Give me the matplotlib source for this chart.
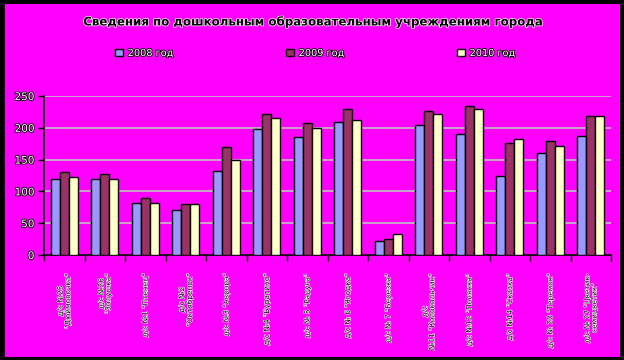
import numpy as np
import matplotlib
matplotlib.use("Agg")
import matplotlib.pyplot as plt
import matplotlib.patheffects as pe
from matplotlib.patches import Rectangle

# данные по детским садам
categories = [
    'д/с №25\n"Дюймовочка"',
    'д/с №26\n"Золушка"',
    'д/с №1 "Птенец"',
    'д/с №2\n"Октябренок"',
    'д/с №3 "Аврора"',
    'д/с №4 "Буратино"',
    'д/с № 5 "Радуга"',
    'д/с № 6 "Ягодка"',
    'д/с № 7 "Березка"',
    'д/с\n№11 "Колокольчик"',
    'д/с №12 "Полянка"',
    'д/с №14 "Сказка"',
    'д/с № 20 "Теремок"',
    'д/с № 27 "Цветик-\nсемицветик"',
]
years = ["2008 год", "2009 год", "2010 год"]
v2008 = [120, 120, 82, 71, 132, 198, 185, 209, 22, 205, 190, 125, 160, 187]
v2009 = [130, 128, 90, 80, 170, 222, 207, 229, 25, 226, 234, 176, 180, 218]
v2010 = [123, 120, 82, 80, 150, 215, 200, 212, 33, 221, 229, 183, 171, 218]
colors = ["#9999FF", "#993366", "#FFFFCC"]
yticks = [0, 50, 100, 150, 200, 250]

plt.rcParams['font.family'] = ['DejaVu Sans']

fig = plt.figure(figsize=(6.24, 3.6), dpi=100)
fig.patch.set_facecolor("black")
# розовая область диаграммы
fig.patches.append(Rectangle((5/624, 3/360), 615/624, 353/360, transform=fig.transFigure,
                             facecolor="#FF00FF", edgecolor="none", zorder=-5))

ax = fig.add_axes([44/624, 1-255/360, 567/624, 159/360])
ax.set_zorder(2)
ax.set_facecolor("#FF00FF")

x = np.arange(len(categories))
w = 0.22
series = [v2008, v2009, v2010]
bars = []
for i, vals in enumerate(series):
    b = ax.bar(x + (i-1)*w, vals, w, color=colors[i], edgecolor="black",
               linewidth=1, label=years[i], zorder=3)
    bars.append(b)

ax.set_xlim(-0.5, len(categories)-0.5)
ax.set_ylim(0, 250)
ax.set_yticks(yticks)
ax.yaxis.grid(True, color="#C0C0C0", linewidth=1.2, zorder=1)
ax.set_axisbelow(True)
for s in ["top", "right"]:
    ax.spines[s].set_visible(False)
ax.spines["left"].set_linewidth(1.2)
ax.spines["bottom"].set_linewidth(1.2)

stroke_w = [pe.withStroke(linewidth=1.2, foreground="black")]
stroke_b = [pe.withStroke(linewidth=0.8, foreground="white")]

ax.tick_params(axis="y", direction="out", length=4, width=1, labelsize=7.5,
               labelcolor="white", pad=3)
for t in ax.get_yticklabels():
    t.set_path_effects(stroke_w)

ax.set_xticks(x)
ax.set_xticklabels(categories, rotation=90, fontsize=5.3, ha="center", va="top",
                   multialignment="center", color="black")
ax.tick_params(axis="x", which="major", length=0, pad=13)
ax.set_xticks(np.arange(-0.5, len(categories), 1), minor=True)
ax.tick_params(axis="x", which="minor", direction="out", length=4, width=1)
for t in ax.get_xticklabels():
    t.set_path_effects(stroke_b)

fig.text(0.5, 1-22/360, "Сведения по дошкольным образовательным учреждениям города",
         ha="center", va="center", fontsize=8.5, fontweight="bold", color="black",
         path_effects=[pe.withStroke(linewidth=1.0, foreground="white")])

leg = fig.legend(handles=bars, labels=years, loc="center", bbox_to_anchor=(0.505, 1-53/360),
                 ncol=3, frameon=False, fontsize=7, handlelength=0.8, handleheight=0.8,
                 handletextpad=0.5, columnspacing=11.6)
for t in leg.get_texts():
    t.set_color("white")
    t.set_path_effects(stroke_w)

fig.savefig("out.png", dpi=100, facecolor=fig.get_facecolor())
